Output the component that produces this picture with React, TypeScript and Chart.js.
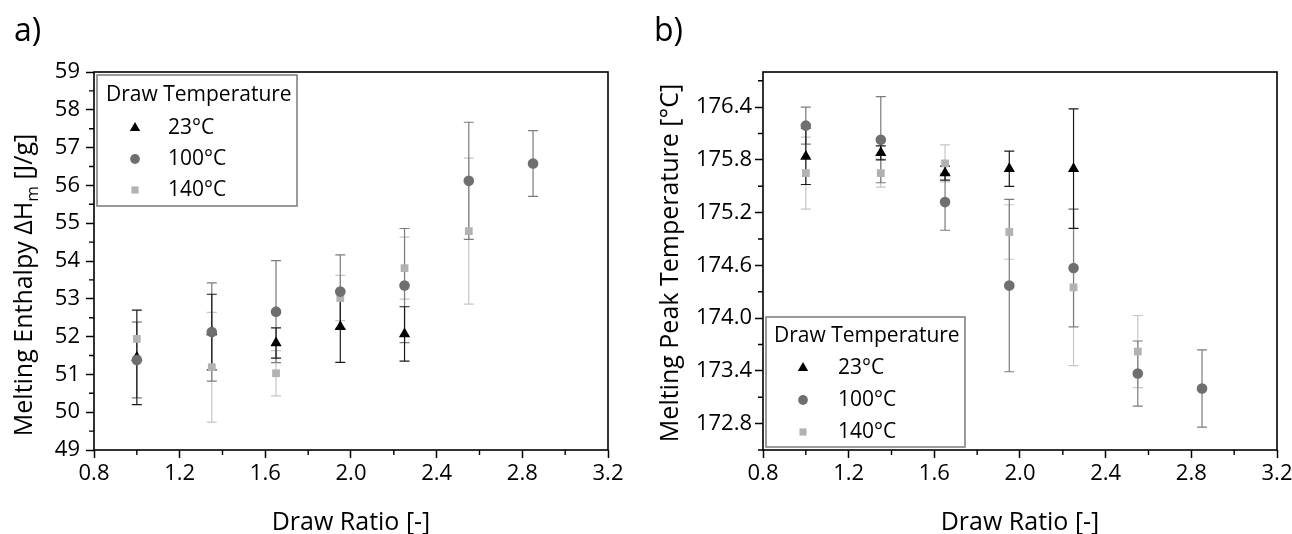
import React, { useEffect, useRef } from 'react';
import { Chart, registerables } from 'chart.js';

Chart.register(...registerables);

const FONT = '"Open Sans", "Noto Sans", "DejaVu Sans", sans-serif';

// ---------------- data ----------------
const drawRatio = [1.0, 1.35, 1.65, 1.95, 2.25, 2.55, 2.85];
const seriesLabels = ['23°C', '100°C', '140°C'];
const legendTitle = 'Draw Temperature';
const xAxisTitle = 'Draw Ratio [-]';

// a) melting enthalpy [J/g]
const enthalpy23 = [51.45, 52.12, 51.83, 52.26, 52.07];
const enthalpy23Err = [1.25, 1.0, 0.4, 0.94, 0.72];
const enthalpy100 = [51.38, 52.12, 52.66, 53.19, 53.35, 56.12, 56.58];
const enthalpy100Err = [1.0, 1.3, 1.35, 0.97, 1.51, 1.55, 0.87];
const enthalpy140 = [51.94, 51.19, 51.03, 53.02, 53.81, 54.79];
const enthalpy140Err = [0.46, 1.45, 0.6, 0.6, 0.82, 1.93];

// b) melting peak temperature [°C]
const peak23 = [175.84, 175.88, 175.65, 175.7, 175.7];
const peak23Err = [0.32, 0.08, 0.08, 0.2, 0.68];
const peak100 = [176.19, 176.03, 175.32, 174.37, 174.57, 173.37, 173.2];
const peak100Err = [0.21, 0.49, 0.32, 0.98, 0.67, 0.37, 0.44];
const peak140 = [175.65, 175.65, 175.76, 174.98, 174.35, 173.62];
const peak140Err = [0.41, 0.16, 0.21, 0.31, 0.89, 0.41];

// ticks
const xMajorTicks = [0.8, 1.2, 1.6, 2.0, 2.4, 2.8, 3.2];
const xMinorTicks = [1.0, 1.4, 1.8, 2.2, 2.6, 3.0];
const enthalpyMajorTicks = [49, 50, 51, 52, 53, 54, 55, 56, 57, 58, 59];
const enthalpyMinorTicks = [49.5, 50.5, 51.5, 52.5, 53.5, 54.5, 55.5, 56.5, 57.5, 58.5];
const peakMajorTicks = [172.8, 173.4, 174.0, 174.6, 175.2, 175.8, 176.4];
const peakMinorTicks = [172.5, 173.1, 173.7, 174.3, 174.9, 175.5, 176.1, 176.7];

// ---------------- styles ----------------
const markerStyles = ['triangle', 'circle', 'rect'];
const markerRadii = [6.5, 5.3, 5.5];
const markerColors = ['#000000', '#6f6f6f', '#b2b2b2'];
const errorColors = ['#1a1a1a', '#7c7c7c', '#c6c6c6'];
const drawOrder = [1, 0, 2];

type LegendGeom = {
  x: number; y: number; w: number; h: number;
  titleX: number; titleY: number; markerX: number; textX: number; rows: number[];
};

type PanelSpec = {
  tag: string;
  canvasLeft: number;
  width: number;
  axisWidth: number;
  rightPad: number;
  yMin: number;
  yMax: number;
  yMajor: number[];
  yMinor: number[];
  yDecimals: number;
  yTickPad: number;
  values: number[][];
  errors: number[][];
  legend: LegendGeom;
  yTitle: string[];
  yTitleX: number;
  yTitleY: number;
};

const panels: PanelSpec[] = [
  {
    tag: 'a)',
    canvasLeft: 0,
    width: 640,
    axisWidth: 94,
    rightPad: 32,
    yMin: 49,
    yMax: 59,
    yMajor: enthalpyMajorTicks,
    yMinor: enthalpyMinorTicks,
    yDecimals: 0,
    yTickPad: 6,
    values: [enthalpy23, enthalpy100, enthalpy140],
    errors: [enthalpy23Err, enthalpy100Err, enthalpy140Err],
    legend: { x: 97, y: 75, w: 200, h: 131, titleX: 106, titleY: 95, markerX: 135, textX: 168, rows: [128, 159, 190] },
    yTitle: ['Melting Enthalpy ΔH', 'm', ' [J/g]'],
    yTitleX: 32,
    yTitleY: 285,
  },
  {
    tag: 'b)',
    canvasLeft: 640,
    width: 652,
    axisWidth: 123,
    rightPad: 15,
    yMin: 172.5,
    yMax: 176.8,
    yMajor: peakMajorTicks,
    yMinor: peakMinorTicks,
    yDecimals: 1,
    yTickPad: 3,
    values: [peak23, peak100, peak140],
    errors: [peak23Err, peak100Err, peak140Err],
    legend: { x: 126, y: 317, w: 199, h: 130, titleX: 134, titleY: 336, markerX: 163, textX: 198, rows: [368, 400, 432] },
    yTitle: ['Melting Peak Temperature [°C]', '', ''],
    yTitleX: 38,
    yTitleY: 263,
  },
];

function drawMarker(ctx: CanvasRenderingContext2D, style: string, x: number, y: number, r: number, color: string) {
  ctx.fillStyle = color;
  ctx.beginPath();
  if (style === 'triangle') {
    for (let k = 0; k < 3; k++) {
      const a = (k * 2 * Math.PI) / 3;
      const px = x + Math.sin(a) * r;
      const py = y - Math.cos(a) * r;
      if (k === 0) ctx.moveTo(px, py);
      else ctx.lineTo(px, py);
    }
    ctx.closePath();
  } else if (style === 'circle') {
    ctx.arc(x, y, r, 0, Math.PI * 2);
  } else {
    const s = r * Math.SQRT1_2;
    ctx.rect(x - s, y - s, 2 * s, 2 * s);
  }
  ctx.fill();
}

function buildConfig(spec: PanelSpec): any {
  const datasets = spec.values.map((vals, i) => ({
    label: seriesLabels[i],
    data: vals.map((v, j) => ({ x: drawRatio[j], y: v })),
    pointStyle: markerStyles[i],
    pointRadius: markerRadii[i],
    pointBackgroundColor: markerColors[i],
    pointBorderColor: markerColors[i],
    pointBorderWidth: 0,
    showLine: false,
    order: drawOrder[i],
  }));

  const errorBars = {
    id: 'errorBars',
    beforeDatasetsDraw(chart: any) {
      const { ctx } = chart;
      const xs = chart.scales.x;
      const ys = chart.scales.y;
      ctx.save();
      ctx.lineWidth = 1.2;
      [2, 1, 0].forEach((i) => {
        ctx.strokeStyle = errorColors[i];
        spec.values[i].forEach((v, j) => {
          const e = spec.errors[i][j];
          const px = xs.getPixelForValue(drawRatio[j]);
          const top = ys.getPixelForValue(v + e);
          const bot = ys.getPixelForValue(v - e);
          ctx.beginPath();
          ctx.moveTo(px, top);
          ctx.lineTo(px, bot);
          ctx.moveTo(px - 5, top);
          ctx.lineTo(px + 5, top);
          ctx.moveTo(px - 5, bot);
          ctx.lineTo(px + 5, bot);
          ctx.stroke();
        });
      });
      ctx.restore();
    },
  };

  const frame = {
    id: 'frame',
    afterDraw(chart: any) {
      const { ctx, chartArea: a } = chart;
      const xs = chart.scales.x;
      const ys = chart.scales.y;
      ctx.save();
      ctx.strokeStyle = '#000';
      ctx.lineWidth = 1.6;
      ctx.strokeRect(a.left, a.top, a.right - a.left, a.bottom - a.top);
      ctx.lineWidth = 1.4;
      ctx.beginPath();
      xMinorTicks.forEach((v) => {
        const px = xs.getPixelForValue(v);
        ctx.moveTo(px, a.bottom);
        ctx.lineTo(px, a.bottom + 5);
      });
      spec.yMinor.forEach((v) => {
        const py = ys.getPixelForValue(v);
        ctx.moveTo(a.left, py);
        ctx.lineTo(a.left - 5, py);
      });
      ctx.stroke();
      ctx.restore();
    },
  };

  const texts = {
    id: 'texts',
    afterDraw(chart: any) {
      const { ctx } = chart;
      ctx.save();
      ctx.fillStyle = '#000';
      // panel tag
      ctx.font = `32px ${FONT}`;
      ctx.textAlign = 'left';
      ctx.textBaseline = 'alphabetic';
      ctx.fillText(spec.tag, 14, 41);
      // y-axis title (rotated, with optional subscript)
      const [main, sub, rest] = spec.yTitle;
      const mainFont = `25px ${FONT}`;
      const subFont = `17px ${FONT}`;
      ctx.font = mainFont;
      const w1 = ctx.measureText(main).width;
      const w3 = ctx.measureText(rest).width;
      ctx.font = subFont;
      const w2 = sub ? ctx.measureText(sub).width : 0;
      const total = w1 + w2 + w3;
      ctx.translate(spec.yTitleX, spec.yTitleY);
      ctx.rotate(-Math.PI / 2);
      let cx = -total / 2;
      ctx.font = mainFont;
      ctx.fillText(main, cx, 0);
      cx += w1;
      if (sub) {
        ctx.font = subFont;
        ctx.fillText(sub, cx, 6);
        cx += w2;
      }
      ctx.font = mainFont;
      ctx.fillText(rest, cx, 0);
      ctx.restore();
    },
  };

  const boxLegend = {
    id: 'boxLegend',
    afterDraw(chart: any) {
      const { ctx } = chart;
      const g = spec.legend;
      ctx.save();
      ctx.fillStyle = '#fff';
      ctx.fillRect(g.x, g.y, g.w, g.h);
      ctx.strokeStyle = '#7a7a7a';
      ctx.lineWidth = 1.5;
      ctx.strokeRect(g.x, g.y, g.w, g.h);
      ctx.fillStyle = '#000';
      ctx.font = `21px ${FONT}`;
      ctx.textAlign = 'left';
      ctx.textBaseline = 'middle';
      ctx.fillText(legendTitle, g.titleX, g.titleY);
      chart.data.datasets.forEach((ds: any, i: number) => {
        drawMarker(ctx, markerStyles[i], g.markerX, g.rows[i], markerRadii[i] * 0.92, markerColors[i]);
        ctx.fillStyle = '#000';
        ctx.fillText(ds.label, g.textX, g.rows[i]);
      });
      ctx.restore();
    },
  };

  const tickFont = { family: FONT, size: 22 };

  return {
    type: 'scatter',
    data: { datasets },
    options: {
      animation: false,
      responsive: false,
      devicePixelRatio: 1,
      events: [],
      layout: { padding: { top: 72, right: spec.rightPad, bottom: 0, left: 0 } },
      plugins: { legend: { display: false }, tooltip: { enabled: false }, title: { display: false } },
      scales: {
        x: {
          type: 'linear',
          min: 0.8,
          max: 3.2,
          afterBuildTicks: (axis: any) => {
            axis.ticks = xMajorTicks.map((v) => ({ value: v }));
          },
          afterFit: (axis: any) => {
            axis.height = 84;
            axis.paddingLeft = 0;
            axis.paddingRight = 0;
          },
          ticks: {
            autoSkip: false,
            maxRotation: 0,
            padding: 3,
            color: '#000',
            font: tickFont,
            callback: (v: any) => Number(v).toFixed(1),
          },
          grid: { display: true, drawOnChartArea: false, drawTicks: true, tickLength: 8, tickColor: '#000', tickWidth: 1.5 },
          border: { display: false },
          title: {
            display: true,
            text: xAxisTitle,
            color: '#000',
            font: { family: FONT, size: 25 },
            padding: { top: 0, bottom: -4 },
          },
        },
        y: {
          type: 'linear',
          min: spec.yMin,
          max: spec.yMax,
          afterBuildTicks: (axis: any) => {
            axis.ticks = spec.yMajor.map((v) => ({ value: v }));
          },
          afterFit: (axis: any) => {
            axis.width = spec.axisWidth;
            axis.paddingTop = 0;
            axis.paddingBottom = 0;
          },
          ticks: {
            autoSkip: false,
            padding: spec.yTickPad,
            color: '#000',
            font: tickFont,
            callback: (v: any) => Number(v).toFixed(spec.yDecimals),
          },
          grid: { display: true, drawOnChartArea: false, drawTicks: true, tickLength: 8, tickColor: '#000', tickWidth: 1.5 },
          border: { display: false },
          title: { display: false },
        },
      },
    },
    plugins: [errorBars, frame, texts, boxLegend],
  };
}

function Panel({ spec }: { spec: PanelSpec }) {
  const ref = useRef<HTMLCanvasElement>(null);
  useEffect(() => {
    const chart = new Chart(ref.current as HTMLCanvasElement, buildConfig(spec));
    return () => chart.destroy();
  }, [spec]);
  return (
    <canvas
      ref={ref}
      width={spec.width}
      height={534}
      style={{ position: 'absolute', left: spec.canvasLeft, top: 0, width: spec.width, height: 534 }}
    />
  );
}

export default function App() {
  return (
    <div style={{ position: 'absolute', left: 0, top: 0, width: 1292, height: 534, background: '#fff', overflow: 'hidden' }}>
      {panels.map((p) => (
        <Panel key={p.tag} spec={p} />
      ))}
    </div>
  );
}
